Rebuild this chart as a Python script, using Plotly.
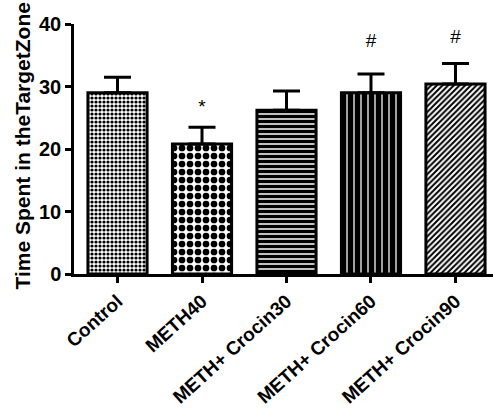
import plotly.graph_objects as go

categories = ["Control", "METH40", "METH+ Crocin30", "METH+ Crocin60", "METH+ Crocin90"]
means = [29.0, 20.8, 26.2, 29.0, 30.4]
sem = [2.5, 2.7, 3.1, 3.0, 3.3]
sig_marks = ["", "*", "", "#", "#"]
sig_y = [None, 26.6, None, 37.1, 37.7]
y_ticks = [0, 10, 20, 30, 40]

patterns = [
    dict(shape=".", size=4, solidity=0.5, fgcolor="black", bgcolor="white", fgopacity=1),
    dict(shape=".", size=8, solidity=0.55, fgcolor="black", bgcolor="white", fgopacity=1),
    dict(shape="-", size=5, solidity=0.7, fgcolor="black", bgcolor="white", fgopacity=1),
    dict(shape="|", size=7, solidity=0.82, fgcolor="black", bgcolor="white", fgopacity=1),
    dict(shape="/", size=4, solidity=0.5, fgcolor="black", bgcolor="white", fgopacity=1),
]

FONT = "Arial, Liberation Sans, sans-serif"
fig = go.Figure()
for i, c in enumerate(categories):
    fig.add_trace(go.Bar(
        x=[i], y=[means[i]], width=0.7,
        marker=dict(color="white", line=dict(color="black", width=3), pattern=patterns[i]),
        error_y=dict(type="data", symmetric=False, array=[sem[i]], arrayminus=[0],
                     color="black", thickness=3, width=13.5),
        showlegend=False, hoverinfo="skip",
    ))

mx = [i for i, m in enumerate(sig_marks) if m]
fig.add_trace(go.Scatter(
    x=mx, y=[sig_y[i] for i in mx], text=[sig_marks[i] for i in mx],
    mode="text", textfont=dict(family=FONT, size=19, color="black"),
    showlegend=False, hoverinfo="skip", cliponaxis=False,
))

fig.add_annotation(
    text="<b>Time Spent in theTargetZone</b>", textangle=-90,
    xref="paper", yref="paper", x=-(74 - 22) / 419, y=0.51,
    xanchor="center", yanchor="middle", showarrow=False,
    font=dict(family=FONT, size=21, color="black"),
)

fig.update_layout(
    width=493, height=416,
    margin=dict(l=74, r=0, t=24, b=142, autoexpand=False),
    plot_bgcolor="white", paper_bgcolor="white",
    bargap=0.3,
)
fig.update_xaxes(
    range=[-0.515, 4.444], tickmode="array", tickvals=list(range(len(categories))),
    ticktext=[f"<b>{c}</b>" for c in categories], tickangle=-42,
    tickfont=dict(family=FONT, size=19, color="black"),
    showline=True, linecolor="black", linewidth=2.5,
    ticks="outside", ticklen=6, tickwidth=2.5, tickcolor="black",
    showgrid=False, zeroline=False, automargin=False,
)
fig.update_yaxes(
    range=[0, 40], tickmode="array", tickvals=y_ticks,
    ticktext=[f"<b>{t}</b>" for t in y_ticks],
    tickfont=dict(family=FONT, size=20, color="black"),
    showline=True, linecolor="black", linewidth=2.5,
    ticks="outside", ticklen=6, tickwidth=2.5, tickcolor="black",
    showgrid=False, zeroline=False, automargin=False,
)
fig.write_html("out.html")
